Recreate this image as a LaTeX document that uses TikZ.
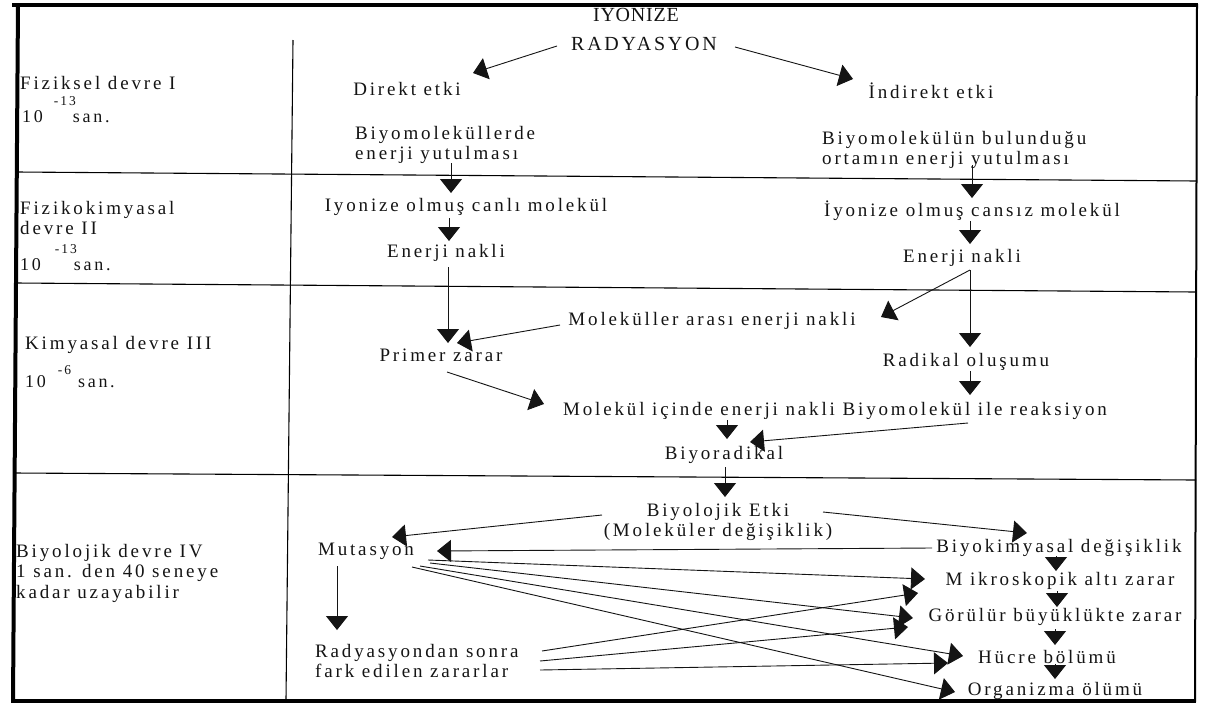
\documentclass[tikz,border=0pt]{standalone}
\usepackage{fontspec}
\setmainfont{Liberation Serif}
\newfontfamily\bodyfont{Liberation Serif}[LetterSpace=15]
\newfontfamily\headfont{Liberation Serif}[LetterSpace=14]
\newfontfamily\titlefont{Liberation Serif}[LetterSpace=4]
\usetikzlibrary{arrows.meta,calc}
\definecolor{ink}{HTML}{141414}
\newcommand{\supsize}{\fontsize{13.5}{13.5}\selectfont}
\tikzset{
  lbl/.style={font=\bodyfont\fontsize{19}{20.5}\selectfont, text=ink, inner sep=0pt},
  lblleft/.style={lbl, align=left, anchor=west},
  lblmid/.style={lbl, align=center},
  timelbl/.style={font=\bodyfont\fontsize{18}{20}\selectfont, text=ink, inner sep=0pt, anchor=base west},
  arr/.style={draw=ink, line width=0.9pt, -{Triangle[width=22pt,length=14pt]}},
  rule/.style={draw=black, line width=1.1pt},
}
\begin{document}
\begin{tikzpicture}[x=1pt,y=-1pt]
\useasboundingbox (0,0) rectangle (1205,713);
\fill[white] (0,0) rectangle (1205,713);

% outer frame
\draw[line width=3.5pt] (12,5) -- (1198,5);
\draw[line width=4pt] (18,3.5) -- (13,702);
\draw[line width=2pt] (1197,4) -- (1195,702);
\draw[line width=3.5pt] (11,701) -- (1196,701);

% column divider and phase rules
\draw[rule] (293,40) -- (286,700);
\draw[rule] (17,172) -- (1197,181);
\draw[rule] (16,283) -- (1196,292);
\draw[rule] (14,473) -- (1196,480);

% phase labels
\node[lblleft] (p1) at (20,83) {Fiziksel devre I};
\node[timelbl] (t1) at (22,122) {10\hspace{11pt}\raisebox{17pt}{\supsize -13}\hspace{-3pt}san.};
\node[lblleft] (p2) at (20,218) {Fizikokimyasal\\devre II};
\node[timelbl] (t2) at (20,270) {10\hspace{14pt}\raisebox{17pt}{\supsize -13}\hspace{-3pt}san.};
\node[lblleft] (p3) at (25,345) {Kimyasal devre III};
\node[timelbl] (t3) at (25,387) {10\hspace{12pt}\raisebox{13pt}{\supsize -6}\hspace{7pt}san.};
\node[lblleft] (p4) at (16,573) {Biyolojik devre IV\\1 san. den 40 seneye\\kadar uzayabilir};

% physical phase
\node[font=\titlefont\fontsize{20}{22}\selectfont, text=ink, inner sep=0pt] (iyon) at (636,15) {IYONIZE};
\node[font=\headfont\fontsize{20}{22}\selectfont, text=ink, inner sep=0pt] (rad) at (644,44) {RADYASYON};
\node[lbl] (dir) at (407,89) {Direkt etki};
\node[lbl] (ind) at (931,91) {İndirekt etki};
\node[lblleft] (bio1) at (355,145) {Biyomoleküllerde\\enerji yutulması};
\node[lblleft] (bio2) at (822,150) {Biyomolekülün bulunduğu\\ortamın enerji yutulması};

% physico-chemical phase
\node[lbl] (ioncan) at (466,207) {Iyonize olmuş canlı molekül};
\node[lbl] (enL) at (446,253) {Enerji nakli};
\node[lbl] (ioncans) at (972,211) {İyonize olmuş cansız molekül};
\node[lbl] (enR) at (962,258) {Enerji nakli};

% chemical phase
\node[lbl] (molar) at (712,321) {Moleküller arası enerji nakli};
\node[lbl] (primer) at (441,355) {Primer zarar};
\node[lbl] (radik) at (966,362) {Radikal oluşumu};
\node[lbl] (molic) at (835,411) {Molekül içinde enerji nakli Biyomolekül ile reaksiyon};
\node[lbl] (biyorad) at (724,455) {Biyoradikal};

% biological phase
\node[lblmid] (biyol) at (718,522) {Biyolojik Etki\\(Moleküler değişiklik)};
\node[lbl] (mut) at (366,551) {Mutasyon};
\node[lblleft] (radson) at (315,661) {Radyasyondan sonra\\fark edilen zararlar};
\node[lbl] (biyok) at (1059,548) {Biyokimyasal değişiklik};
\node[lbl] (mikro) at (1060,581) {M ikroskopik altı zarar};
\node[lbl] (goru) at (1055,617) {Görülür büyüklükte zarar};
\node[lbl] (hucre) at (1047,657) {Hücre bölümü};
\node[lbl] (organ) at (1055,691) {Organizma ölümü};

% connectors: physical phase
\draw[arr] ($(rad)+(-87,2)$) -- ($(dir)+(66,-16)$);
\draw[arr] ($(rad)+(91,3)$) -- ($(ind)+(-78,-12)$);
\draw[arr] ($(bio1.west)+(96,18)$) -- ($(ioncan)+(-15,-14)$);
\draw[arr] ($(bio2.west)+(150,15)$) -- ($(ioncans)+(0,-13)$);

% connectors: physico-chemical phase
\draw[arr] ($(ioncan)+(-17,11)$) -- ($(enL)+(3,-12)$);
\draw[arr] ($(ioncans)+(-2,10)$) -- ($(enR)+(8,-14)$);
\draw[arr] ($(enL)+(2,14)$) -- ($(primer)+(7,-12)$);
\coordinate (split) at ($(enR)+(8,12)$);
\draw[arr] (split) -- ($(molar)+(169,-4)$);
\draw[arr] (split) -- ($(radik)+(4,-15)$);

% connectors: chemical phase
\draw[arr] ($(molar)+(-152,4)$) -- ($(primer)+(16,-12)$);
\draw[arr] ($(primer)+(6,17)$) -- ($(molic)+(-291,-7)$);
\draw[arr] ($(radik)+(4,9)$) -- ($(molic)+(135,-16)$);
\draw[arr] ($(molic)+(-108,9)$) -- ($(biyorad)+(3,-16)$);
\draw[arr] ($(molic)+(133,12)$) -- ($(biyorad)+(26,-13)$);
\draw[arr] ($(biyorad)+(1,12)$) -- ($(biyol)+(7,-25)$);

% connectors: biological phase
\draw[arr] ($(biyol)+(-116,-7)$) -- ($(mut)+(26,-14)$);
\draw[arr] ($(biyol)+(105,-10)$) -- ($(biyok)+(-32,-15)$);
\draw[arr] ($(biyok)+(-127,0)$) -- ($(mut)+(71,0)$);
\draw[arr] ($(biyok)+(-3,8)$) -- ($(mikro)+(-4,-10)$);
\draw[arr] ($(mikro)+(-3,10)$) -- ($(goru)+(2,-10)$);
\draw[arr] ($(goru)+(0,12)$) -- ($(hucre)+(8,-12)$);
\draw[arr] ($(hucre)+(8,7)$) -- ($(organ)+(0,-12)$);
\draw[arr] ($(mut)+(-29,15)$) -- ($(radson.west)+(22,-31)$);
\draw[arr] ($(mut)+(62,9)$) -- ($(mikro)+(-135,-2)$);
\draw[arr] ($(mut)+(64,12)$) -- ($(goru)+(-142,1)$);
\draw[arr] ($(mut)+(54,15)$) -- ($(hucre)+(-84,-1)$);
\draw[arr] ($(mut)+(46,16)$) -- ($(organ)+(-100,1)$);
\draw[arr] ($(radson.west)+(227,-10)$) -- ($(mikro)+(-142,12)$);
\draw[arr] ($(radson.west)+(225,0)$) -- ($(goru)+(-147,10)$);
\draw[arr] ($(radson.west)+(225,9)$) -- ($(hucre)+(-99,6)$);
\end{tikzpicture}
\end{document}
